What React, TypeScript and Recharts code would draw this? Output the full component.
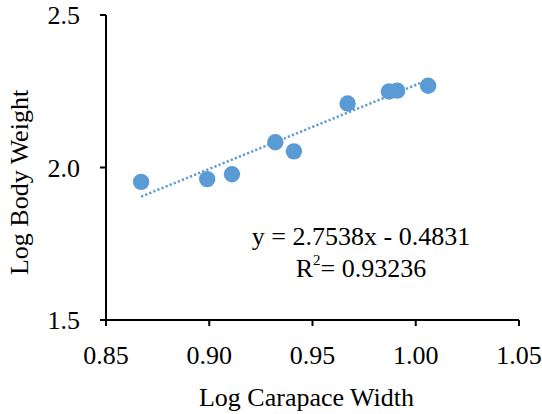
import React from 'react';
import { ScatterChart, Scatter, XAxis, YAxis } from 'recharts';

const carapaceWidth = [0.867, 0.899, 0.911, 0.932, 0.941, 0.967, 0.987, 0.991, 1.006];
const bodyWeight = [1.953, 1.962, 1.978, 2.083, 2.053, 2.21, 2.249, 2.252, 2.268];
const xTicks = [0.85, 0.9, 0.95, 1.0, 1.05];
const yTicks = [1.5, 2.0, 2.5];
const slope = 2.7538;
const intercept = -0.4831;
const rSquared = '0.93236';

const FONT = '"Liberation Serif", "Times New Roman", serif';
const BLUE = '#5B9BD5';

const points = carapaceWidth.map((x, i) => ({ x, y: bodyWeight[i] }));
const xMin = Math.min(...carapaceWidth);
const xMax = Math.max(...carapaceWidth);
const trend = [xMin, xMax].map(x => ({ x, y: slope * x + intercept }));

const textStyle = { fill: '#000', fontSize: 26, fontFamily: FONT };

const XTitle = ({ viewBox }: any) => (
    <text x={viewBox.x + viewBox.width / 2 - 6} y={viewBox.y + 86} textAnchor="middle" style={textStyle}>
        Log Carapace Width
    </text>
);

const YTitle = ({ viewBox }: any) => {
    const x = viewBox.x + 28;
    const y = viewBox.y + viewBox.height / 2 + 15;
    return (
        <text x={x} y={y} textAnchor="middle" transform={`rotate(-90, ${x}, ${y})`} style={textStyle}>
            Log Body Weight
        </text>
    );
};

export default function App() {
    return (
        <div style={{ position: 'absolute', left: 0, top: 0, width: 542, height: 414, background: '#fff', fontFamily: FONT }}>
            <ScatterChart width={542} height={414} margin={{ top: 15, right: 23, bottom: 0, left: 0 }}>
                <XAxis
                    type="number"
                    dataKey="x"
                    domain={[0.85, 1.05]}
                    ticks={xTicks}
                    tickFormatter={(v: number) => v.toFixed(2)}
                    height={94}
                    tick={textStyle}
                    tickSize={6}
                    tickMargin={20}
                    axisLine={{ stroke: '#000', strokeWidth: 2 }}
                    tickLine={{ stroke: '#000', strokeWidth: 2 }}
                    label={{ content: XTitle }}
                />
                <YAxis
                    type="number"
                    dataKey="y"
                    domain={[1.5, 2.5]}
                    ticks={yTicks}
                    tickFormatter={(v: number) => v.toFixed(1)}
                    width={106}
                    tick={textStyle}
                    tickSize={6}
                    tickMargin={20}
                    axisLine={{ stroke: '#000', strokeWidth: 2 }}
                    tickLine={{ stroke: '#000', strokeWidth: 2 }}
                    label={{ content: YTitle }}
                />
                <Scatter
                    data={trend}
                    line={{ stroke: BLUE, strokeWidth: 2.5, strokeDasharray: '2.2 2.2' }}
                    shape={() => null}
                    isAnimationActive={false}
                />
                <Scatter
                    data={points}
                    fill={BLUE}
                    shape={(p: any) => <circle cx={p.cx} cy={p.cy} r={8.2} fill={BLUE} />}
                    isAnimationActive={false}
                />
            </ScatterChart>
            <div style={{ position: 'absolute', left: 221, top: 221, width: 280, textAlign: 'center', fontSize: 26, lineHeight: '32px', color: '#000' }}>
                <div>y = {slope}x - {Math.abs(intercept)}</div>
                <div>R<sup style={{ fontSize: 15, lineHeight: 0, position: 'relative', top: -2 }}>2</sup>= {rSquared}</div>
            </div>
        </div>
    );
}
